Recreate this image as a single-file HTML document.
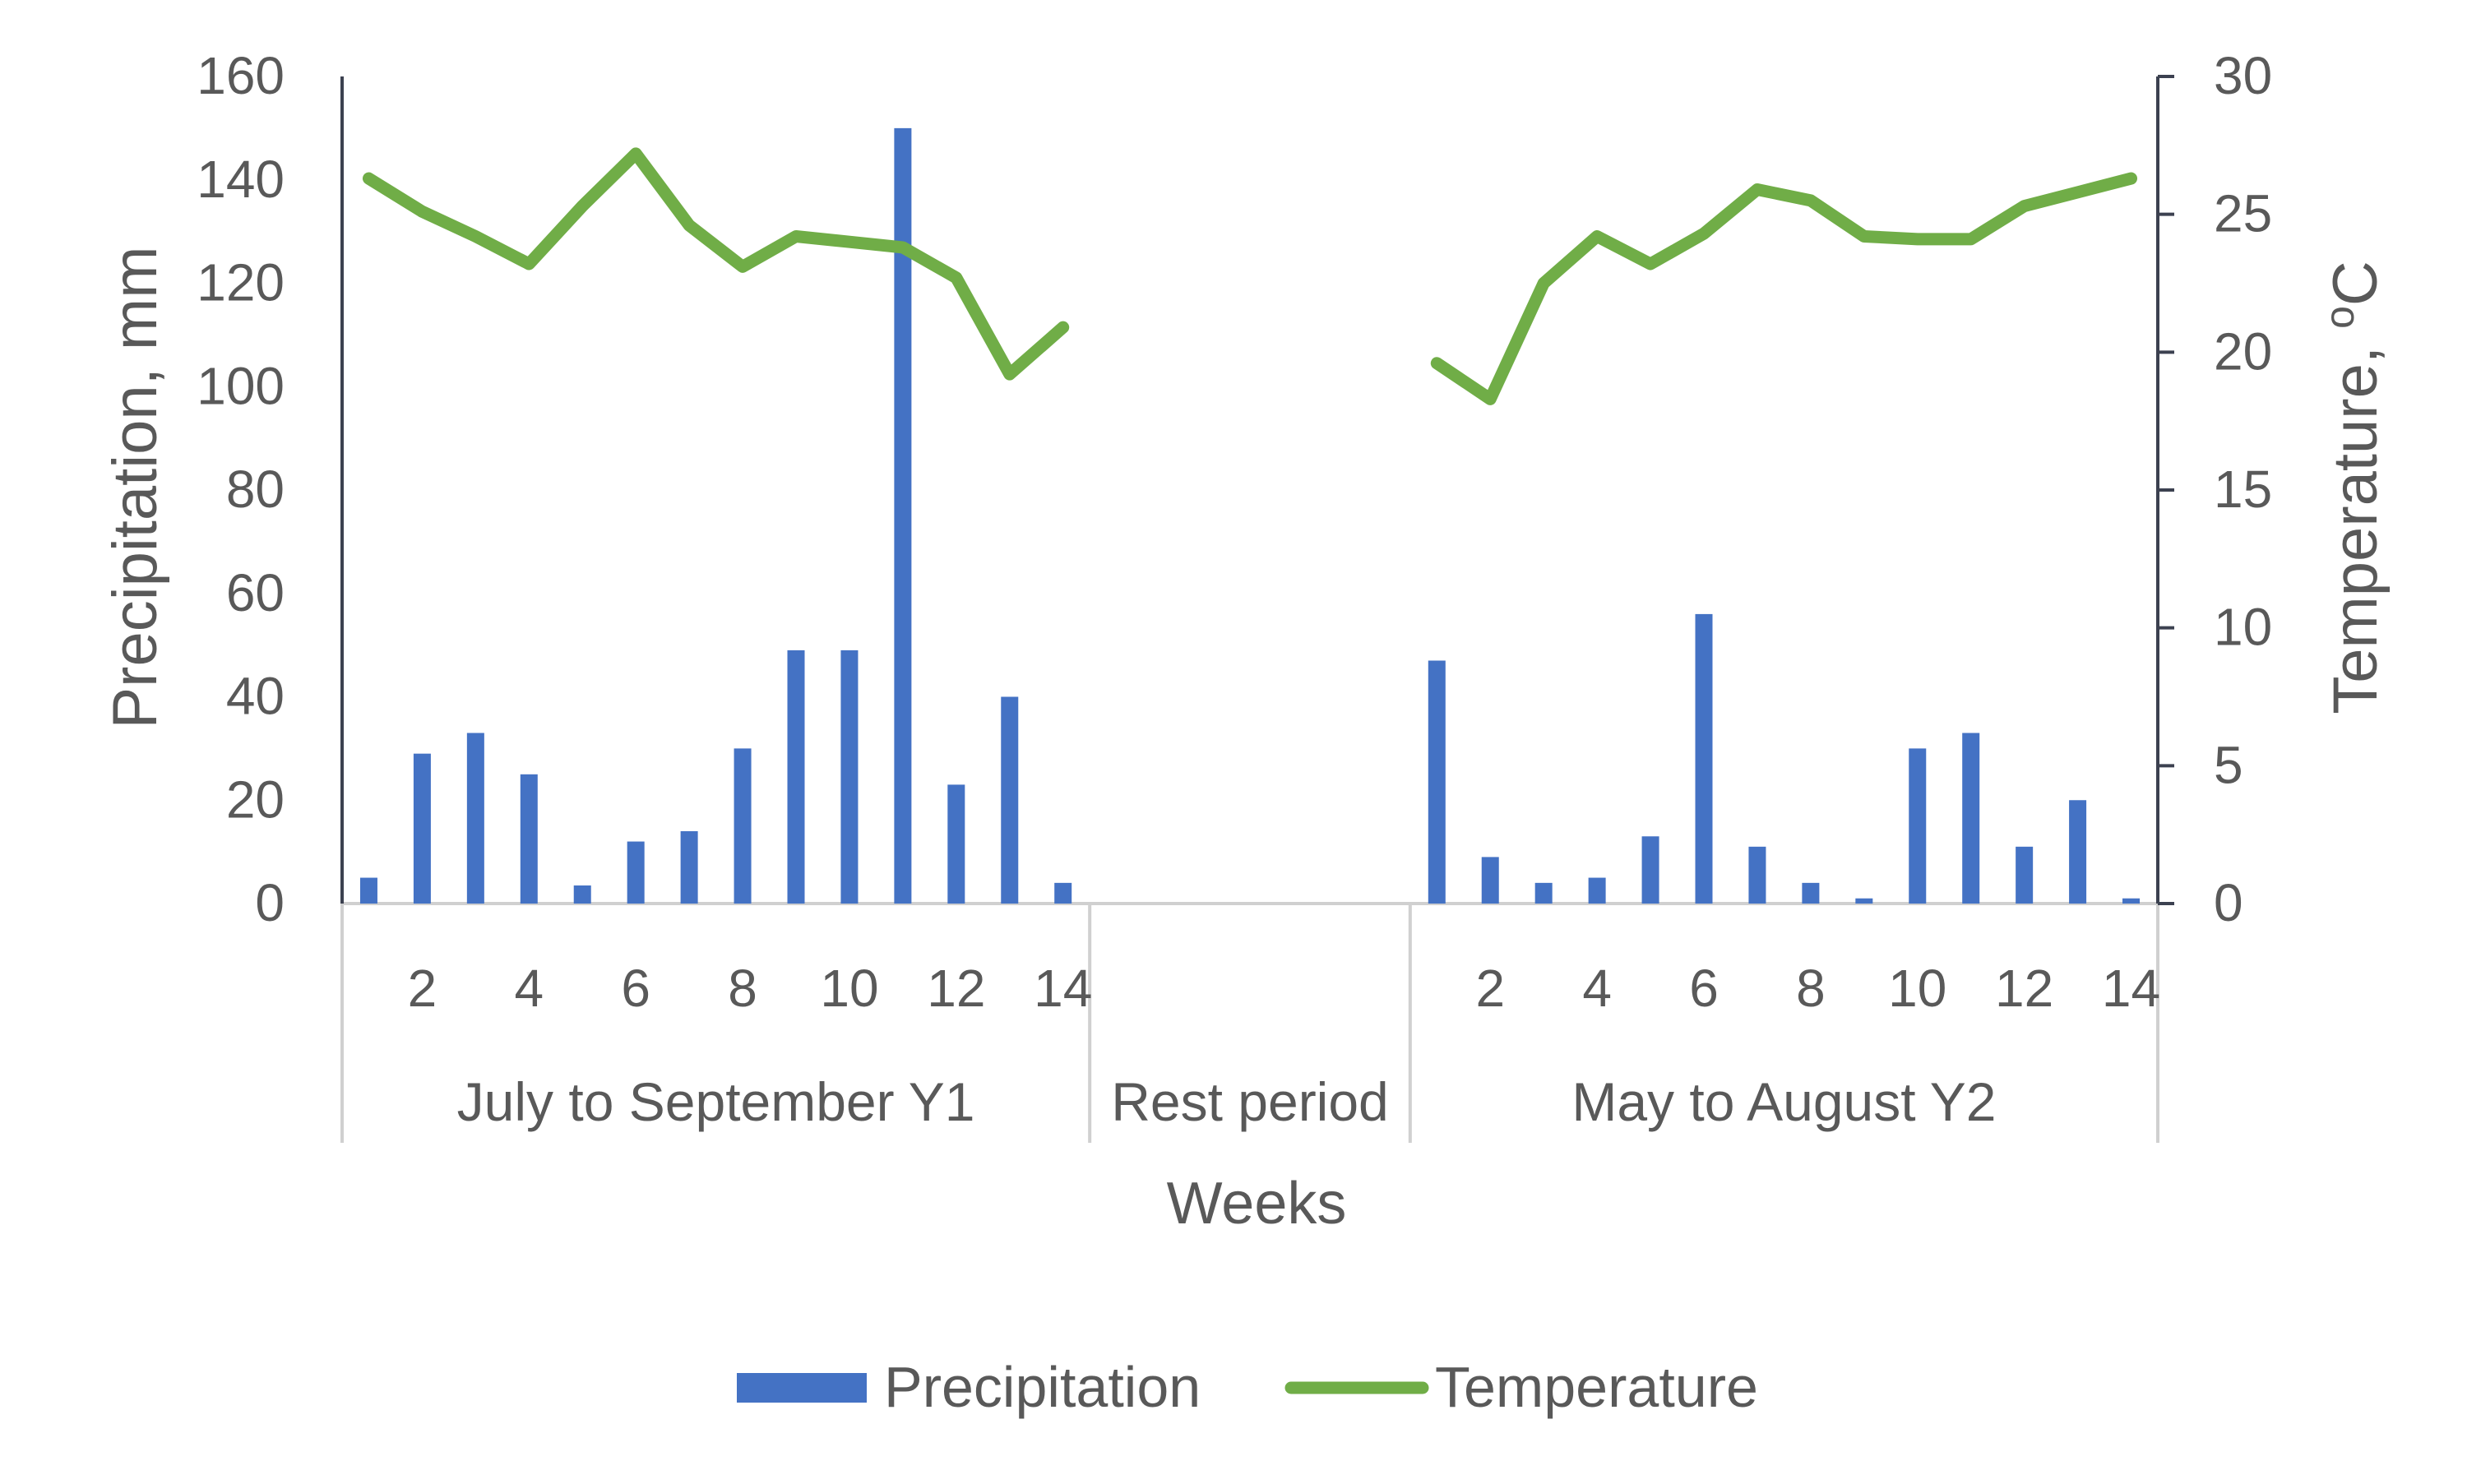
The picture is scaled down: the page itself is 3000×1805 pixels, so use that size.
<!DOCTYPE html>
<html><head><meta charset="utf-8"><style>
html,body{margin:0;padding:0;background:#fff}
svg text{font-family:"Liberation Sans",sans-serif;fill:#595959}
</style></head><body>
<svg id="c" width="3000" height="1800" viewBox="0 0 3000 1800" xmlns="http://www.w3.org/2000/svg"></svg>
<script>
const precipY1=[5,29,33,25,3.5,12,14,30,49,49,150,23,40,4];
const precipY2=[47,9,4,5,13,56,11,4,1,30,33,11,20,1];
const tempY1=[26.3,25.1,24.2,23.2,25.3,27.2,24.6,23.1,24.2,24.0,23.8,22.7,19.2,20.9];
const tempY2=[19.6,18.3,22.5,24.2,23.2,24.3,25.9,25.5,24.2,24.1,24.1,25.3,25.8,26.3];
const leftTicks=[0,20,40,60,80,100,120,140,160];
const rightTicks=[0,5,10,15,20,25,30];
const weekTicks=[2,4,6,8,10,12,14];
const groups=["July to September Y1","Rest period","May to August Y2"];
const groupSlots=[14,6,14];

const NS="http://www.w3.org/2000/svg";
const svg=document.getElementById('c');
const X0=416,X1=2624,Y0=1099,YT=93;
const nSlots=groupSlots.reduce((a,b)=>a+b,0);
const slot=(X1-X0)/nSlots;
const yL=v=>Y0-(v/160)*(Y0-YT);
const yR=v=>Y0-(v/30)*(Y0-YT);
const xs=i=>X0+(i+0.5)*slot;
function mk(tag,attrs,txt){const e=document.createElementNS(NS,tag);for(const k in attrs)e.setAttribute(k,attrs[k]);if(txt!==undefined)e.textContent=txt;svg.appendChild(e);return e;}

let b=mk('line',{x1:X0,y1:Y0,x2:X1,y2:Y0,stroke:'#d0d0d0','stroke-width':4});


let acc=0;
for(let g=0;g<=groupSlots.length;g++){
  const x=X0+acc*slot;
  const l=mk('line',{x1:x,y1:Y0,x2:x,y2:1390,stroke:'#d0d0d0','stroke-width':4});
  
  
  if(g<groupSlots.length){
    const t=mk('text',{x:x+groupSlots[g]*slot/2,y:1363,'font-size':66,'text-anchor':'middle'},groups[g]);
    
    
    acc+=groupSlots[g];
  }
}
const offs=[0,groupSlots[0]+groupSlots[1]];
[precipY1,precipY2].forEach((arr,s)=>{
  arr.forEach((v,i)=>{
    const cx=xs(offs[s]+i);
    const r=mk('rect',{x:cx-10.5,y:yL(v),width:21,height:Y0-yL(v),fill:'#4472c4'});
    
    
  });
  weekTicks.forEach(w=>{
    const t=mk('text',{x:xs(offs[s]+w-1),y:1224,'font-size':64,'text-anchor':'middle'},String(w));
    
    
  });
});
[tempY1,tempY2].forEach((arr,s)=>{
  const pts=arr.map((v,i)=>xs(offs[s]+i)+','+yR(v)).join(' ');
  const p=mk('polyline',{points:pts,fill:'none',stroke:'#70ad47','stroke-width':15,'stroke-linejoin':'round','stroke-linecap':'round'});
  
  
});
let la=mk('line',{x1:X0,y1:YT,x2:X0,y2:Y0,stroke:'#3c4150','stroke-width':4});


leftTicks.forEach(v=>{
  const t=mk('text',{x:346,y:yL(v)+21,'font-size':64,'text-anchor':'end'},String(v));
  
  
});
let ra=mk('line',{x1:X1,y1:YT,x2:X1,y2:Y0,stroke:'#3c4150','stroke-width':4});


rightTicks.forEach(v=>{
  const tk=mk('line',{x1:X1,y1:yR(v),x2:X1+20,y2:yR(v),stroke:'#3c4150','stroke-width':4});
  
  
  const t=mk('text',{x:2692,y:yR(v)+21,'font-size':64,'text-anchor':'start'},String(v));
  
  
});
let yt=mk('text',{x:0,y:0,'font-size':76,'text-anchor':'middle',transform:'translate(190,593) rotate(-90)'},'Precipitation, mm');


let rt=mk('text',{x:0,y:0,'font-size':76,'text-anchor':'middle',transform:'translate(2890,593) rotate(-90)'});


rt.innerHTML='Temperature, <tspan dy="-28" font-size="50">o</tspan><tspan dy="28">C</tspan>';
let xt=mk('text',{x:1528,y:1488,'font-size':72,'text-anchor':'middle'},'Weeks');


let l1=mk('rect',{x:896,y:1670,width:158,height:36,fill:'#4472c4'});


let l1t=mk('text',{x:1075,y:1711,'font-size':70},'Precipitation');


let l2=mk('line',{x1:1570,y1:1688,x2:1730,y2:1688,stroke:'#70ad47','stroke-width':15,'stroke-linecap':'round'});


let l2t=mk('text',{x:1745,y:1711,'font-size':70},'Temperature');


</script>
</body></html>
